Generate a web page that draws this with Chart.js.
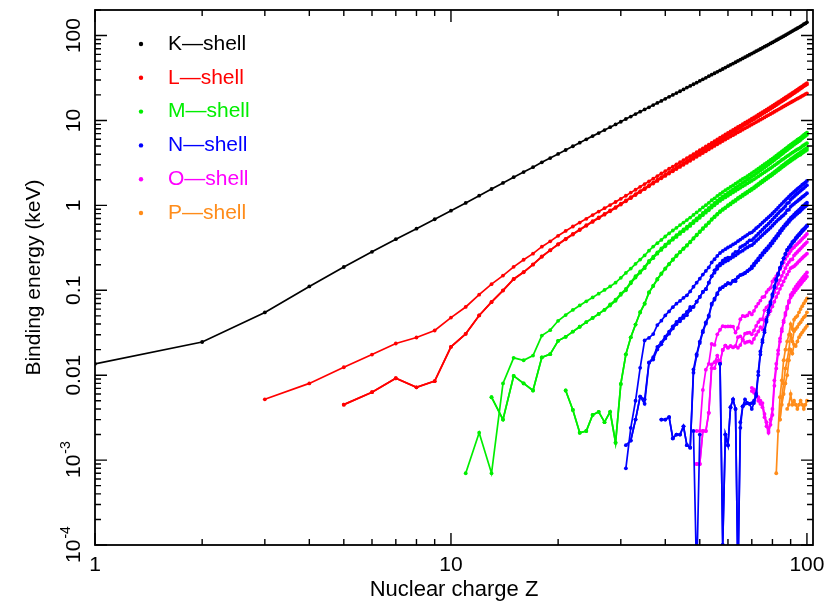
<!DOCTYPE html>
<html>
<head>
<meta charset="utf-8">
<title>Binding energies</title>
<style>
  html, body { margin: 0; padding: 0; background: #fff; }
</style>
<script src="https://cdn.jsdelivr.net/npm/chart.js@4.4.1/dist/chart.umd.min.js"></script>
</head>
<body>
<canvas id="chart" width="839" height="607"></canvas>
<script>
// binding energies in keV, one array per subshell, starting at the given Z
const kStart = 1;
const kShell = [
  0.0136,0.0246,0.0548,0.111,0.188,0.284,0.400,0.532,0.686,0.867,
  1.07,1.30,1.56,1.84,2.15,2.47,2.82,3.21,3.61,4.04,
  4.49,4.97,5.47,5.99,6.54,7.11,7.71,8.33,8.98,9.66,
  10.4,11.1,11.9,12.7,13.5,14.3,15.2,16.1,17.0,18.0,
  19.0,20.0,21.0,22.1,23.2,24.4,25.5,26.7,27.9,29.2,
  30.5,31.8,33.2,34.6,36.0,37.4,38.9,40.4,42.0,43.6,
  45.2,46.8,48.5,50.2,52.0,53.8,55.6,57.5,59.4,61.3,
  63.3,65.4,67.4,69.5,71.7,73.9,76.1,78.4,80.7,83.1,
  85.5,88.0,90.5,93.1,95.7,98.4,101,104,107,110,
  113,116,119,122,125,128,132,136,139,143
];

const l1Start = 3;
const l1Shell = [
  0.0052,0.0080,0.0124,0.0175,0.0236,0.0278,0.0336,0.0477,
  0.0636,0.0888,0.118,0.149,0.189,0.229,0.270,0.326,0.377,0.438,
  0.500,0.564,0.628,0.695,0.769,0.846,0.926,1.008,1.096,1.194,
  1.298,1.414,1.527,1.654,1.782,1.921,2.065,2.216,2.373,2.532,
  2.698,2.866,3.043,3.224,3.412,3.604,3.806,4.018,4.238,4.465,
  4.698,4.939,5.188,5.453,5.714,5.989,6.266,6.549,6.835,7.126,
  7.428,7.737,8.052,8.376,8.708,9.046,9.394,9.751,10.12,10.49,
  10.87,11.27,11.68,12.10,12.53,12.97,13.42,13.88,14.35,14.84,
  15.35,15.86,16.39,16.94,17.49,18.05,18.64,19.24,19.84,20.47,
  21.10,21.76,22.43,23.10,23.81,24.53,25.26,26.01,26.78,27.57
];

const l2Start = 5;
const l2Shell = [
  0.0045,0.0063,0.0092,0.0072,0.0085,0.0216,
  0.0307,0.0505,0.0729,0.0998,0.136,0.164,0.202,0.251,0.297,0.350,
  0.404,0.460,0.520,0.584,0.650,0.720,0.793,0.870,0.952,1.045,
  1.143,1.248,1.359,1.474,1.596,1.731,1.864,2.007,2.156,2.307,
  2.465,2.625,2.793,2.967,3.146,3.330,3.524,3.727,3.938,4.156,
  4.380,4.612,4.852,5.104,5.359,5.624,5.891,6.164,6.440,6.722,
  7.013,7.312,7.617,7.930,8.252,8.581,8.918,9.264,9.617,9.978,
  10.35,10.74,11.14,11.54,11.96,12.39,12.82,13.27,13.73,14.21,
  14.70,15.20,15.71,16.24,16.78,17.34,17.91,18.48,19.08,19.69,
  20.31,20.95,21.60,22.27,22.94,23.78,24.39,25.25,25.90,26.60
];

const l3Start = 5;
const l3Shell = [
  0.0045,0.0063,0.0092,0.0072,0.0085,0.0216,
  0.0307,0.0505,0.0725,0.0992,0.135,0.163,0.200,0.248,0.295,0.346,
  0.399,0.454,0.512,0.574,0.639,0.707,0.778,0.853,0.933,1.022,
  1.116,1.217,1.324,1.434,1.550,1.678,1.804,1.940,2.080,2.222,
  2.371,2.520,2.677,2.838,3.004,3.173,3.351,3.538,3.730,3.929,
  4.132,4.341,4.557,4.782,5.012,5.247,5.483,5.723,5.964,6.208,
  6.459,6.716,6.977,7.243,7.514,7.790,8.071,8.358,8.648,8.944,
  9.244,9.561,9.881,10.21,10.54,10.87,11.22,11.56,11.92,12.28,
  12.66,13.04,13.42,13.81,14.21,14.62,15.03,15.44,15.87,16.30,
  16.73,17.17,17.61,18.06,18.50,18.93,19.45,19.93,20.41,20.90
];

const m1Start = 11;
const m1Shell = [
  0.0007,0.0021,0.0007,0.0080,0.0160,0.0150,0.0170,0.0293,0.0339,0.0437,
  0.0511,0.0587,0.0663,0.0741,0.0823,0.0913,0.101,0.111,0.123,0.140,
  0.160,0.180,0.205,0.230,0.257,0.293,0.327,0.359,0.392,0.430,
  0.467,0.506,0.544,0.586,0.628,0.672,0.719,0.772,0.827,0.885,
  0.946,1.006,1.072,1.149,1.211,1.293,1.362,1.436,1.511,1.575,
  1.650,1.723,1.800,1.881,1.968,2.047,2.128,2.207,2.307,2.398,
  2.491,2.601,2.708,2.820,2.932,3.049,3.174,3.296,3.425,3.562,
  3.704,3.851,3.999,4.149,4.317,4.482,4.652,4.822,5.002,5.182,
  5.367,5.548,5.723,5.933,6.121,6.288,6.556,6.754,6.977,7.205
];

const m2Start = 13;
const m2Shell = [
  0.0055,0.0030,0.0098,0.0080,0.0066,0.0162,0.0177,0.0254,
  0.0283,0.0326,0.0372,0.0422,0.0472,0.0527,0.0589,0.0680,0.0773,0.0914,
  0.1035,0.1249,0.1462,0.1665,0.189,0.222,0.249,0.280,0.311,0.344,
  0.376,0.412,0.445,0.484,0.521,0.560,0.604,0.653,0.703,0.757,
  0.813,0.871,0.931,1.002,1.071,1.137,1.209,1.274,1.337,1.403,
  1.471,1.541,1.614,1.688,1.768,1.842,1.923,2.006,2.090,2.173,
  2.264,2.365,2.469,2.575,2.682,2.792,2.909,3.027,3.148,3.279,
  3.416,3.554,3.696,3.854,4.008,4.159,4.327,4.490,4.656,4.830,
  5.001,5.182,5.366,5.541,5.710,5.895,6.147,6.359,6.574,6.793
];

const m3Start = 13;
const m3Shell = [
  0.0055,0.0030,0.0098,0.0080,0.0066,0.0162,0.0177,0.0254,
  0.0283,0.0326,0.0372,0.0422,0.0472,0.0527,0.0589,0.0662,0.0751,0.0886,
  0.100,0.121,0.141,0.161,0.182,0.214,0.239,0.270,0.299,0.330,
  0.361,0.394,0.425,0.461,0.497,0.532,0.573,0.618,0.665,0.715,
  0.766,0.820,0.875,0.941,1.003,1.063,1.128,1.187,1.242,1.297,
  1.357,1.420,1.481,1.544,1.611,1.676,1.741,1.812,1.885,1.950,
  2.024,2.108,2.194,2.281,2.367,2.457,2.551,2.645,2.743,2.847,
  2.957,3.066,3.177,3.302,3.426,3.538,3.663,3.792,3.909,4.046,
  4.174,4.303,4.435,4.557,4.667,4.797,4.977,5.109,5.252,5.397
];

const m4Start = 21;
const m4Shell = [
  0.0066,0.0039,0.0021,0.0022,0.0034,0.0037,0.0028,0.0037,0.0016,0.0079,
  0.0176,0.0279,0.0395,0.0555,0.0700,0.0950,0.113,0.136,0.158,0.181,
  0.205,0.231,0.257,0.284,0.312,0.341,0.374,0.412,0.451,0.493,
  0.538,0.583,0.631,0.689,0.741,0.796,0.853,0.902,0.948,1.003,
  1.052,1.111,1.159,1.222,1.277,1.333,1.392,1.453,1.515,1.576,
  1.639,1.716,1.793,1.872,1.949,2.031,2.116,2.202,2.291,2.385,
  2.485,2.586,2.688,2.798,2.909,3.022,3.136,3.248,3.370,3.491,
  3.611,3.728,3.850,3.973,4.092,4.227,4.366,4.497,4.630,4.766
];

const m5Start = 21;
const m5Shell = [
  0.0066,0.0039,0.0021,0.0022,0.0034,0.0037,0.0028,0.0037,0.0016,0.0079,
  0.0176,0.0279,0.0395,0.0546,0.0690,0.0938,0.112,0.134,0.156,0.179,
  0.202,0.228,0.253,0.280,0.307,0.335,0.368,0.405,0.444,0.485,
  0.528,0.573,0.619,0.676,0.727,0.781,0.836,0.884,0.929,0.980,
  1.027,1.083,1.128,1.190,1.241,1.293,1.351,1.409,1.468,1.528,
  1.589,1.662,1.735,1.809,1.883,1.960,2.040,2.122,2.206,2.295,
  2.389,2.484,2.580,2.683,2.787,2.892,3.000,3.105,3.219,3.332,
  3.442,3.552,3.664,3.778,3.887,3.971,4.132,4.253,4.374,4.498
];

const n1Start = 31;
const n1Shell = [
  0.0008,0.0024,0.0050,0.0122,0.0257,0.0275,0.0305,0.0389,0.0438,0.0506,
  0.0564,0.0632,0.0695,0.0750,0.0814,0.0871,0.0970,0.110,0.123,0.137,
  0.153,0.169,0.186,0.213,0.232,0.254,0.275,0.291,0.305,0.319,
  0.331,0.347,0.360,0.379,0.396,0.414,0.432,0.450,0.471,0.481,
  0.507,0.538,0.563,0.594,0.625,0.658,0.691,0.725,0.762,0.802,
  0.846,0.892,0.939,0.995,1.042,1.097,1.153,1.208,1.269,1.330,
  1.387,1.439,1.501,1.559,1.617,1.677,1.750,1.800,1.868,1.938
];

const n2Start = 31;
const n2Shell = [
  0.0015,0.0017,0.0030,0.0056,0.0052,0.0141,0.0163,0.0216,0.0244,0.0285,
  0.0326,0.0376,0.0423,0.0463,0.0505,0.0557,0.0637,0.0639,0.0735,0.0836,
  0.0956,0.103,0.123,0.147,0.172,0.192,0.206,0.223,0.236,0.243,
  0.243,0.266,0.284,0.286,0.322,0.334,0.344,0.366,0.386,0.389,
  0.412,0.438,0.463,0.490,0.519,0.549,0.578,0.609,0.643,0.680,
  0.721,0.762,0.805,0.851,0.886,0.929,0.980,1.058,1.080,1.168,
  1.224,1.271,1.328,1.380,1.435,1.491,1.545,1.600,1.666,1.730
];

const n3Start = 32;
const n3Shell = [
  0.0017,0.0030,0.0056,0.0046,0.0140,0.0153,0.0201,0.0231,0.0271,
  0.0308,0.0355,0.0399,0.0432,0.0473,0.0509,0.0583,0.0639,0.0735,0.0836,
  0.0956,0.103,0.123,0.146,0.161,0.179,0.196,0.207,0.218,0.225,
  0.236,0.247,0.257,0.271,0.284,0.293,0.308,0.320,0.333,0.340,
  0.359,0.381,0.401,0.424,0.447,0.471,0.496,0.519,0.546,0.577,
  0.610,0.644,0.679,0.705,0.740,0.768,0.810,0.879,0.890,0.966,
  1.007,1.043,1.085,1.123,1.164,1.205,1.255,1.290,1.340,1.390
];

const n4Start = 39;
const n4Shell = [
  0.0030,0.0030,
  0.0032,0.0018,0.0020,0.0020,0.0025,0.0015,0.0014,0.0117,0.0177,0.0249,
  0.0333,0.0419,0.0506,0.0695,0.0798,0.0926,0.105,0.109,0.115,0.121,
  0.120,0.129,0.133,0.143,0.151,0.154,0.160,0.168,0.176,0.191,
  0.206,0.220,0.238,0.256,0.274,0.293,0.312,0.332,0.353,0.378,
  0.406,0.434,0.464,0.500,0.533,0.567,0.603,0.636,0.675,0.712,
  0.743,0.778,0.816,0.850,0.885,0.921,0.967,1.000,1.040,1.080
];

const n5Start = 39;
const n5Shell = [
  0.0030,0.0030,
  0.0032,0.0018,0.0020,0.0020,0.0025,0.0015,0.0014,0.0107,0.0169,0.0239,
  0.0321,0.0404,0.0489,0.0675,0.0775,0.0899,0.103,0.109,0.115,0.121,
  0.120,0.129,0.128,0.143,0.151,0.154,0.160,0.168,0.176,0.182,
  0.196,0.212,0.226,0.244,0.261,0.279,0.296,0.315,0.335,0.359,
  0.385,0.412,0.440,0.473,0.507,0.541,0.577,0.603,0.639,0.675,
  0.708,0.736,0.771,0.802,0.832,0.864,0.906,0.940,0.974,1.010
];

const n6Start = 48;
const n6Shell = [
  0.0022,0.00004,0.0020,
  null,null,null,null,null,null,0.0136,0.0001,0.0020,0.0015,
  0.0042,0.0052,0.0040,0.00004,0.0028,0.0043,0.0046,0.0047,0.0046,0.0047,
  0.0050,0.0060,0.0110,0.0190,0.0260,0.0340,0.0450,0.0580,0.0720,0.0900,
  0.112,0.135,0.157,0.184,0.210,0.238,0.268,0.299,0.319,0.342,
  0.371,0.388,0.414,0.436,0.459,0.482,0.510,0.530,0.555,0.580
];

const n7Start = 57;
const n7Shell = [
  0.0136,0.0001,0.0020,0.0015,
  0.0042,0.0052,0.0040,0.00004,0.0024,0.0043,0.0052,0.0047,0.0046,0.0040,
  0.0047,0.0057,0.0100,0.0175,0.0245,0.0320,0.0425,0.0550,0.0690,0.0860,
  0.108,0.130,0.152,0.184,0.210,0.238,0.268,0.299,0.319,0.333,
  0.360,0.377,0.403,0.424,0.446,0.468,0.496,0.516,0.541,0.566
];

const o1Start = 49;
const o1Shell = [
  0.0022,0.0022,
  0.0067,0.0116,0.0136,0.0233,0.0227,0.0303,0.0343,0.0378,0.0374,0.0375,
  0.0375,0.0374,0.0318,0.0360,0.0456,0.0499,0.0493,0.0506,0.0547,0.0520,
  0.0573,0.0642,0.0697,0.0756,0.0830,0.0840,0.0952,0.102,0.107,0.127,
  0.136,0.147,0.159,0.177,0.195,0.214,0.234,0.254,0.272,0.290,
  0.310,0.321,0.338,0.352,0.368,0.384,0.404,0.420,0.440,0.460
];

const o2Start = 49;
const o2Shell = [
  0.0009,0.0009,
  0.0022,0.0022,0.0036,0.0134,0.0142,0.0170,0.0143,0.0198,0.0223,0.0211,
  0.0220,0.0213,0.0220,0.0280,0.0287,0.0263,0.0308,0.0314,0.0318,0.0303,
  0.0336,0.0380,0.0422,0.0453,0.0456,0.0580,0.0630,0.0653,0.0742,0.0831,
  0.0946,0.106,0.119,0.132,0.148,0.164,0.182,0.200,0.215,0.229,
  0.232,0.257,0.270,0.283,0.296,0.310,0.325,0.340,0.355,0.370
];

const o3Start = 49;
const o3Shell = [
  0.0009,0.0009,
  0.0022,0.0022,0.0036,0.0121,0.0121,0.0148,0.0143,0.0198,0.0223,0.0211,
  0.0220,0.0213,0.0220,0.0210,0.0226,0.0263,0.0241,0.0247,0.0250,0.0241,
  0.0267,0.0299,0.0327,0.0368,0.0346,0.0445,0.0480,0.0517,0.0572,0.0645,
  0.0735,0.0833,0.0926,0.104,0.115,0.127,0.140,0.153,0.167,0.182,
  0.187,0.192,0.200,0.210,0.220,0.230,0.240,0.250,0.260,0.270
];

const o4Start = 70;
const o4Shell = [
  0.0071,
  0.0068,0.0063,0.0055,0.0050,0.0047,0.0035,0.0028,0.0022,0.0030,0.0040,
  0.0087,0.0136,0.0196,0.0270,0.0350,0.0440,0.0540,0.0640,0.0750,0.0880,
  0.0940,0.103,0.110,0.117,0.124,0.131,0.139,0.146,0.154,0.162
];

const o5Start = 70;
const o5Shell = [
  0.0065,
  0.0062,0.0058,0.0050,0.0046,0.0042,0.0032,0.0025,0.0021,0.0026,0.0034,
  0.0075,0.0120,0.0178,0.0250,0.0330,0.0420,0.0510,0.0610,0.0720,0.0820,
  0.0880,0.0942,0.100,0.106,0.112,0.118,0.125,0.131,0.138,0.145
];

const p1Start = 82;
const p1Shell = [
  0.0007,0.0022,0.0055,0.0087,0.0150,0.0200,0.0250,0.0300,0.0400,
  0.0350,0.0450,0.0480,0.0500,0.0550,0.0600,0.0650,0.0700,0.0750,0.0800
];

const p2Start = 84;
const p2Shell = [
  0.0030,0.0055,0.0080,0.0120,0.0150,0.0200,0.0300,
  0.0250,0.0330,0.0350,0.0370,0.0400,0.0420,0.0450,0.0480,0.0500,0.0550
];

const p3Start = 84;
const p3Shell = [
  0.0030,0.0045,0.0060,0.0080,0.0100,0.0150,0.0200,
  0.0180,0.0230,0.0220,0.0250,0.0280,0.0300,0.0320,0.0340,0.0360,0.0380
];

const p4Start = 88;
const p4Shell = [
  0.0040,0.0045,0.0060,
  0.0045,0.0050,0.0045,0.0040,0.0045,0.0050,0.0045,0.0040,0.0045,0.0050
];

const shellNames = ['K—shell', 'L—shell', 'M—shell', 'N—shell', 'O—shell', 'P—shell'];
const shellColors = ['#000000', '#ff0000', '#00ee00', '#0000ff', '#ff00ff', '#ff8c1a'];

const yTickValues = [1e-4, 1e-3, 0.01, 0.1, 1, 10, 100];
const yTickLabels = [['10', '-4'], ['10', '-3'], ['0.01', ''], ['0.1', ''], ['1', ''], ['10', ''], ['100', '']];
const xTickValues = [1, 10, 100];

const subshells = [
  [0, kStart, kShell],
  [1, l1Start, l1Shell], [1, l2Start, l2Shell], [1, l3Start, l3Shell],
  [2, m1Start, m1Shell], [2, m2Start, m2Shell], [2, m3Start, m3Shell], [2, m4Start, m4Shell], [2, m5Start, m5Shell],
  [3, n1Start, n1Shell], [3, n2Start, n2Shell], [3, n3Start, n3Shell], [3, n4Start, n4Shell],
  [3, n5Start, n5Shell], [3, n6Start, n6Shell], [3, n7Start, n7Shell],
  [4, o1Start, o1Shell], [4, o2Start, o2Shell], [4, o3Start, o3Shell], [4, o4Start, o4Shell], [4, o5Start, o5Shell],
  [5, p1Start, p1Shell], [5, p2Start, p2Shell], [5, p3Start, p3Shell], [5, p4Start, p4Shell]
];

const FONT = '"Liberation Sans", Arial, sans-serif';

const datasets = subshells.map(([shell, start, values]) => ({
  label: shellNames[shell],
  data: values.map((v, i) => ({ x: start + i, y: v })),
  borderColor: shellColors[shell],
  backgroundColor: shellColors[shell],
  borderWidth: 1.7,
  pointRadius: 1.9,
  pointBorderWidth: 0,
  pointHoverRadius: 0,
  tension: 0,
  spanGaps: false
}));

// box, inward ticks, rotated y labels and the legend
const framePlugin = {
  id: 'frame',
  afterDraw(chart) {
    const { ctx, chartArea: a, scales: { x, y } } = chart;
    ctx.save();
    ctx.strokeStyle = '#000';
    ctx.lineWidth = 1.8;
    ctx.strokeRect(a.left, a.top, a.right - a.left, a.bottom - a.top);

    ctx.lineWidth = 1.4;
    ctx.beginPath();
    for (const d of [1, 10]) {
      for (let m = 1; m <= 9; m++) {
        const px = x.getPixelForValue(d * m);
        const len = m === 1 ? 12 : 6;
        ctx.moveTo(px, a.bottom); ctx.lineTo(px, a.bottom - len);
        ctx.moveTo(px, a.top); ctx.lineTo(px, a.top + len);
      }
    }
    const p100 = x.getPixelForValue(100);
    ctx.moveTo(p100, a.bottom); ctx.lineTo(p100, a.bottom - 12);
    ctx.moveTo(p100, a.top); ctx.lineTo(p100, a.top + 12);
    for (const d of [1e-4, 1e-3, 0.01, 0.1, 1, 10, 100]) {
      for (let m = 1; m <= 9; m++) {
        const v = d * m;
        if (v > y.max) break;
        const py = y.getPixelForValue(v);
        const len = m === 1 ? 12 : 6;
        ctx.moveTo(a.left, py); ctx.lineTo(a.left + len, py);
        ctx.moveTo(a.right, py); ctx.lineTo(a.right - len, py);
      }
    }
    ctx.stroke();

    // y tick labels, rotated
    ctx.fillStyle = '#000';
    yTickValues.forEach((v, i) => {
      const [base, sup] = yTickLabels[i];
      const py = y.getPixelForValue(v);
      ctx.save();
      ctx.translate(74, py);
      ctx.rotate(-Math.PI / 2);
      ctx.textBaseline = 'middle';
      ctx.textAlign = 'left';
      ctx.font = '21px ' + FONT;
      const w1 = ctx.measureText(base).width;
      ctx.font = '14px ' + FONT;
      const w2 = sup ? ctx.measureText(sup).width : 0;
      const x0 = -(w1 + w2) / 2;
      ctx.font = '21px ' + FONT;
      ctx.fillText(base, x0, 0);
      if (sup) {
        ctx.font = '14px ' + FONT;
        ctx.fillText(sup, x0 + w1 + 1, -8);
      }
      ctx.restore();
    });

    // legend
    ctx.font = '21px ' + FONT;
    ctx.textBaseline = 'middle';
    ctx.textAlign = 'left';
    shellNames.forEach((name, i) => {
      const ly = 44 + i * 33.8;
      ctx.fillStyle = shellColors[i];
      ctx.beginPath();
      ctx.arc(141, ly, 2.2, 0, Math.PI * 2);
      ctx.fill();
      ctx.fillText(name, 168, ly);
    });
    ctx.restore();
  }
};

new Chart(document.getElementById('chart'), {
  type: 'line',
  data: { datasets },
  options: {
    responsive: false,
    animation: false,
    devicePixelRatio: 1,
    layout: { padding: { top: 10, right: 26, left: 0, bottom: 0 } },
    plugins: { legend: { display: false }, tooltip: { enabled: false } },
    scales: {
      x: {
        type: 'logarithmic',
        min: 1,
        max: 104,
        grid: { display: false, drawTicks: false },
        border: { display: false },
        afterBuildTicks: s => { s.ticks = xTickValues.map(v => ({ value: v })); },
        afterFit: s => { s.height = 62; },
        ticks: {
          autoSkip: false,
          maxRotation: 0,
          padding: 8,
          color: '#000',
          font: { family: FONT, size: 21 },
          callback: v => String(v)
        },
        title: {
          display: true,
          text: 'Nuclear charge Z',
          color: '#000',
          font: { family: FONT, size: 22 },
          padding: { top: 0, bottom: 4 }
        }
      },
      y: {
        type: 'logarithmic',
        min: 1e-4,
        max: 200,
        grid: { display: false, drawTicks: false },
        border: { display: false },
        afterFit: s => { s.width = 95; },
        ticks: { display: false },
        title: {
          display: true,
          text: 'Binding energy (keV)',
          color: '#000',
          font: { family: FONT, size: 21 },
          padding: { top: 22, bottom: 0 }
        }
      }
    }
  },
  plugins: [framePlugin]
});
</script>
</body>
</html>
